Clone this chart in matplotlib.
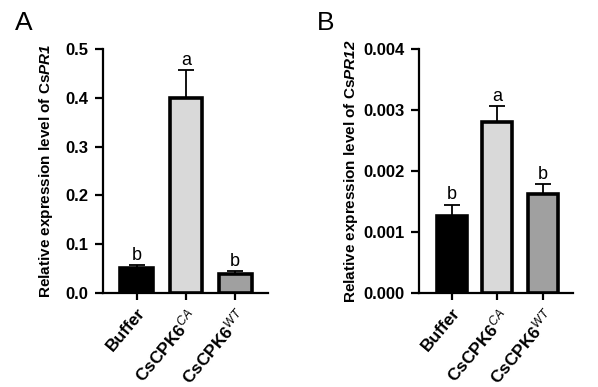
import numpy as np
import matplotlib.pyplot as plt

plt.rcParams['font.family'] = ['Liberation Sans', 'DejaVu Sans']
plt.rcParams['mathtext.fontset'] = 'custom'
plt.rcParams['mathtext.rm'] = 'Liberation Sans'
plt.rcParams['mathtext.it'] = 'Liberation Sans:italic'
plt.rcParams['mathtext.bf'] = 'Liberation Sans:bold'
plt.rcParams['mathtext.bfit'] = 'Liberation Sans:italic:bold'

# data
groups = ['Buffer', r'CsCPK6$^{\mathit{CA}}$', r'CsCPK6$^{\mathit{WT}}$']
colors = ['#000000', '#d9d9d9', '#a0a0a0']

pr1_mean = [0.0505, 0.399, 0.0396]
pr1_err = [0.0068, 0.058, 0.0054]
pr1_letters = ['b', 'a', 'b']

pr12_mean = [0.00126, 0.00281, 0.00162]
pr12_err = [0.00019, 0.00025, 0.00016]
pr12_letters = ['b', 'a', 'b']

fig = plt.figure(figsize=(5.98, 3.87), dpi=100)
axA = fig.add_axes([103 / 598, 0.243, 165 / 598, 0.630])
axB = fig.add_axes([419 / 598, 0.243, 154 / 598, 0.630])


def draw(ax, mean, err, letters, ymax, step, fmt, gene, xlim, width, labx):
    x = np.arange(len(mean))
    ax.bar(x, mean, width=width, color=colors, edgecolor='black', linewidth=2.6, zorder=3)
    ax.errorbar(x, mean, yerr=[np.zeros(len(err)), err], fmt='none', ecolor='black',
                elinewidth=1.3, capsize=6, capthick=1.3, zorder=2)
    for xi, m, e, l in zip(x, mean, err, letters):
        ax.text(xi, m + e + ymax * 0.006, l, ha='center', va='bottom', fontsize=13)
    ax.set_ylim(0, ymax)
    ax.set_xlim(*xlim)
    ticks = np.arange(0, ymax + step / 2, step)
    ax.set_yticks(ticks)
    ax.set_yticklabels([fmt.format(v) for v in ticks], fontsize=12, fontweight='bold')
    ax.set_xticks(x)
    ax.set_xticklabels(groups, rotation=50, ha='right', rotation_mode='anchor',
                       fontsize=12.5, fontweight='bold')
    for s in ['top', 'right']:
        ax.spines[s].set_visible(False)
    for s in ['left', 'bottom']:
        ax.spines[s].set_linewidth(1.6)
    ax.tick_params(axis='y', width=1.6, length=6, pad=4.5)
    ax.tick_params(axis='x', width=1.6, length=5, pad=4)
    ax.set_ylabel('Relative expression level of Cs$\\mathbfit{' + gene + '}$',
                  fontsize=11, fontweight='bold')
    ax.yaxis.set_label_coords(labx, 0.5)


draw(axA, pr1_mean, pr1_err, pr1_letters, 0.5, 0.1, '{:.1f}', 'PR1',
     (-0.69, 2.67), 0.67, -0.29)
draw(axB, pr12_mean, pr12_err, pr12_letters, 0.004, 0.001, '{:.3f}', 'PR12',
     (-0.725, 2.66), 0.66, -0.383)

fig.text(24 / 598, 1 - 23 / 387, 'A', fontsize=19, ha='center', va='center')
fig.text(326 / 598, 1 - 23 / 387, 'B', fontsize=19, ha='center', va='center')

fig.savefig('out.png', dpi=100)
